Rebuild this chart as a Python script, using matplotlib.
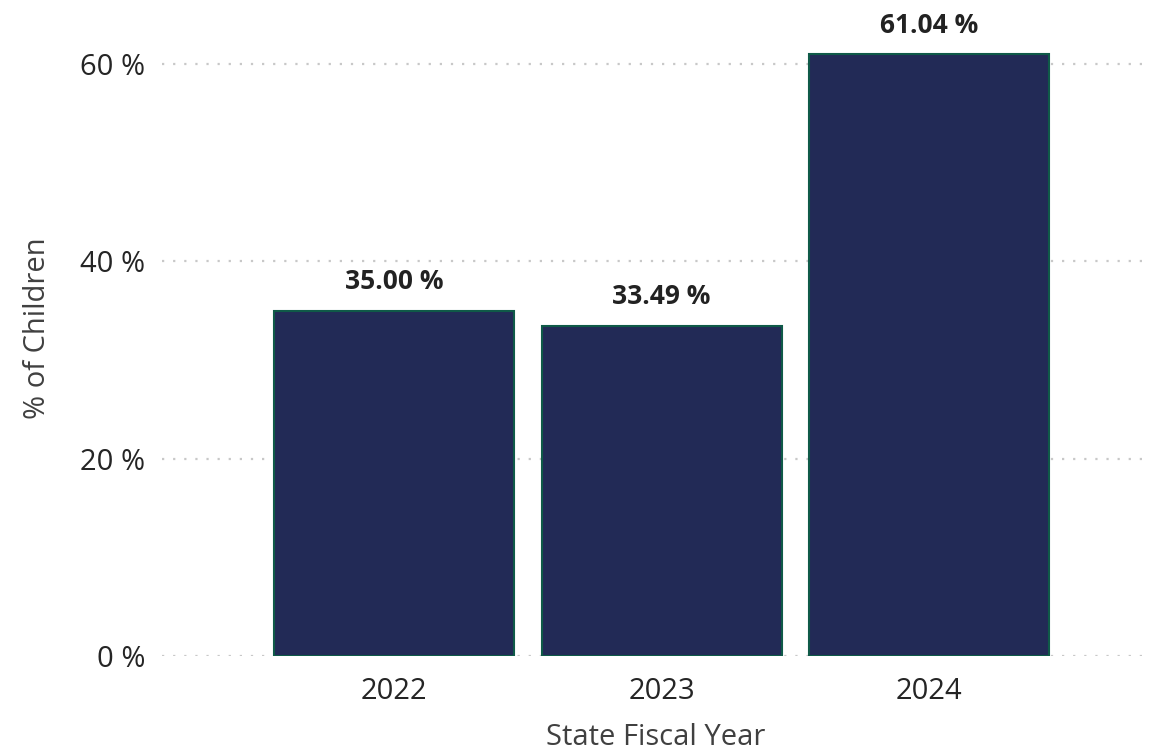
import matplotlib

matplotlib.use("Agg")
import matplotlib.pyplot as plt

years = ["2022", "2023", "2024"]
pct_children = [35.00, 33.49, 61.04]
y_ticks = [0, 20, 40, 60]
y_tick_labels = ["0 %", "20 %", "40 %", "60 %"]

plt.rcParams["font.family"] = ["Open Sans", "DejaVu Sans"]

fig = plt.figure(figsize=(11.53, 7.53), dpi=100)
ax = fig.add_axes([0.1405, 0.1288, 0.857, 0.8712])

x = range(len(years))
bars = ax.bar(x, pct_children, width=0.897, color="#222A56",
              edgecolor="#0F5A48", linewidth=1.5, zorder=3)

for bar, v in zip(bars, pct_children):
    ax.annotate(f"{v:.2f} %", (bar.get_x() + bar.get_width() / 2, v),
                xytext=(0, 11), textcoords="offset points",
                ha="center", va="bottom", fontsize=19, fontweight="bold",
                color="#222222")

ax.set_xlim(-0.867, 2.826)
ax.set_ylim(0, 66.5)
ax.set_xticks(list(x))
ax.set_xticklabels(years, fontsize=21, color="#252525")
ax.set_yticks(y_ticks)
ax.set_yticklabels(y_tick_labels, fontsize=21, color="#252525")
ax.tick_params(length=0)
ax.tick_params(axis="y", pad=12)
ax.tick_params(axis="x", pad=15)

ax.yaxis.grid(True, color="#C8C8C8", linestyle=(0, (1, 4)), linewidth=1.6, zorder=0)
ax.set_axisbelow(True)
for s in ax.spines.values():
    s.set_visible(False)

ax.set_xlabel("State Fiscal Year", fontsize=21, color="#404040", labelpad=12)
ax.set_ylabel("% of Children", fontsize=21, color="#404040", labelpad=20)

fig.savefig("out.png", dpi=100)
